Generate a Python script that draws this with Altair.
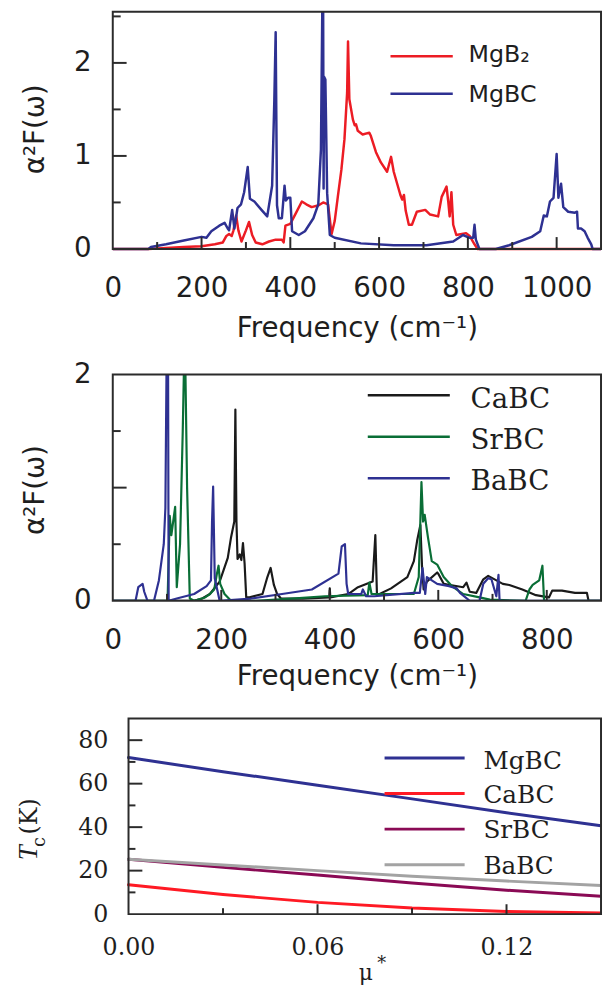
import altair as alt
import pandas as pd

# ---------------- Panel 1: alpha^2F(omega) of MgB2 and MgBC ----------------
MGB2_W = [0, 80, 120, 160, 200, 230, 248, 256, 262, 268, 272, 278, 283, 290, 300, 307, 314, 322, 337, 352,
          367, 381, 385, 389, 400, 412, 426, 436, 448, 464, 474, 485, 493, 500, 507, 515, 522, 528, 530, 533,
          541, 545, 548, 552, 563, 578, 581, 593, 604, 618, 627, 633, 648, 652, 656, 660, 667, 674, 685, 704,
          715, 733, 741, 752, 756, 759, 763, 767, 774, 796, 804, 815, 822, 1100]
MGB2_A = [0, 0, 0.01, 0.02, 0.03, 0.05, 0.07, 0.14, 0.16, 0.14, 0.2, 0.36, 0.2, 0.08, 0.2, 0.29, 0.15, 0.07, 0.05, 0.08,
          0.1, 0.1, 0.07, 0.25, 0.27, 0.38, 0.51, 0.48, 0.45, 0.47, 0.5, 0.48, 0.16, 0.3, 0.56, 0.85, 1.18, 1.68, 2.23, 1.61,
          1.39, 1.33, 1.34, 1.27, 1.23, 1.25, 1.22, 1.04, 0.93, 0.83, 0.99, 0.83, 0.58, 0.53, 0.58, 0.41, 0.26, 0.26, 0.4, 0.42,
          0.37, 0.35, 0.56, 0.67, 0.5, 0.35, 0.61, 0.26, 0.15, 0.17, 0.14, 0.05, 0, 0]
MGBC_W = [0, 80, 86, 120, 160, 200, 211, 222, 240, 252, 259, 262, 269, 274, 281, 289, 296, 304, 309, 319,
          335, 348, 359, 364, 367, 370, 374, 381, 387, 390, 395, 400, 404, 419, 433, 452, 463, 469, 472, 474, 475,
          476, 479, 483, 489, 500, 559, 633, 707, 767, 789, 804, 812, 815, 818, 826, 863, 893, 944, 963, 971,
          978, 985, 993, 1000, 1004, 1010, 1015, 1026, 1041, 1046, 1048, 1055, 1063, 1070, 1078, 1081, 1100]
MGBC_A = [0, 0, 0.02, 0.05, 0.09, 0.13, 0.12, 0.19, 0.25, 0.28, 0.22, 0.2, 0.42, 0.22, 0.44, 0.48, 0.61, 0.88, 0.54, 0.51,
          0.42, 0.35, 0.68, 1.6, 2.33, 0.47, 0.33, 0.33, 0.68, 0.52, 0.55, 0.55, 0.19, 0.15, 0.19, 0.33, 0.48, 1.07, 2.55, 2.55, 0.65,
          1.85, 1.82, 0.6, 0.15, 0.12, 0.06, 0.04, 0.04, 0.08, 0.15, 0.12, 0.12, 0.26, 0.1, 0, 0, 0.04, 0.13, 0.19, 0.36,
          0.35, 0.51, 0.55, 1.02, 0.55, 0.7, 0.45, 0.4, 0.39, 0.4, 0.22, 0.22, 0.19, 0.12, 0.05, 0, 0]
P1_NAMES = ["MgB₂", "MgBC"]
P1_COLORS = ["#ec1c24", "#2e3192"]
P1_XDOMAIN = [0, 1100]
P1_YDOMAIN = [0, 2.55]
P1_XLABELS = [0, 200, 400, 600, 800, 1000]
P1_XTICKS_MAJOR = [200, 400, 600, 800, 1000]
P1_XTICKS_MINOR = [100, 300, 500, 700, 900]
P1_YLABELS = [0, 1, 2]
P1_YTICKS_MAJOR = [1, 2]
P1_YTICKS_MINOR = [0.5, 1.5, 2.5]

# ---------------- Panel 2: CaBC, SrBC, BaBC ----------------
CABC_W = [0, 150, 165, 179, 197, 212, 218, 224, 226, 228, 230, 234, 237, 240, 243, 246, 252, 276, 285, 291,
          297, 303, 310, 350, 399, 400, 401, 434, 452, 479, 484, 487, 513, 543, 555, 561, 567, 570, 573, 579,
          598, 600, 610, 622, 646, 652, 658, 670, 683, 692, 719, 731, 755, 780, 804, 810, 828, 852, 874, 877, 900]
CABC_A = [0, 0, 0.02, 0.06, 0.17, 0.38, 0.56, 0.7, 1.69, 0.7, 0.37, 0.41, 0.36, 0.51, 0.33, 0.03, 0.03, 0.06, 0.21, 0.29,
          0.14, 0.06, 0.02, 0.02, 0.03, 0.11, 0.03, 0.06, 0.12, 0.17, 0.58, 0.05, 0.11, 0.21, 0.35, 0.53, 0.67, 0.31, 0.1, 0.17,
          0.25, 0.24, 0.15, 0.14, 0.12, 0.16, 0.08, 0.07, 0.19, 0.22, 0.15, 0.14, 0.1, 0.05, 0.03, 0.09, 0.09, 0.07, 0.07, 0, 0]
SRBC_W = [0, 101, 105, 108, 115, 118, 124, 129, 131, 134, 137, 142, 150, 170, 179, 187, 192, 195, 198, 206,
          214, 218, 264, 330, 391, 470, 473, 477, 555, 564, 569, 572, 575, 581, 588, 598, 610, 625, 646, 676,
          695, 761, 768, 774, 786, 792, 795, 900]
SRBC_A = [0, 0, 0.75, 0.58, 0.83, 0.12, 0.5, 1.5, 2.0, 2.0, 1.0, 0.02, 0, 0.03, 0.06, 0.1, 0.24, 0.31, 0.15, 0.06,
          0.02, 0, 0, 0.02, 0.04, 0.05, 0.16, 0.06, 0.06, 0.21, 1.05, 0.7, 0.76, 0.56, 0.35, 0.32, 0.21, 0.13, 0.06, 0.03,
          0.01, 0, 0.1, 0.14, 0.18, 0.31, 0, 0]
BABC_W = [0, 42, 47, 55, 58, 64, 76, 85, 94, 97, 99, 102, 103, 118, 150, 173, 181, 183, 185, 188,
          197, 255, 312, 367, 416, 422, 428, 431, 434, 458, 461, 467, 482, 555, 566, 571, 576, 579, 598, 620,
          634, 640, 658, 676, 683, 692, 698, 707, 711, 713, 900]
BABC_A = [0, 0, 0.12, 0.15, 0.08, 0, 0, 0.18, 0.5, 0.82, 2.0, 2.0, 0, 0.02, 0.06, 0.13, 0.18, 0.7, 1.01, 0.2,
          0, 0.02, 0.06, 0.1, 0.24, 0.48, 0.5, 0.15, 0.06, 0.06, 0.1, 0.04, 0.04, 0.07, 0.07, 0.29, 0.06, 0.21, 0.15, 0.13,
          0.11, 0.07, 0, 0, 0.15, 0.2, 0.19, 0.04, 0.23, 0, 0]
P2_NAMES = ["CaBC", "SrBC", "BaBC"]
P2_COLORS = ["#1a1a1a", "#0a6e36", "#2e3192"]
P2_XDOMAIN = [0, 900]
P2_YDOMAIN = [0, 2]
P2_XLABELS = [0, 200, 400, 600, 800]
P2_XTICKS_MAJOR = [200, 400, 600, 800]
P2_XTICKS_MINOR = [100, 300, 500, 700]
P2_YLABELS = [0, 1, 2]
P2_YTICKS_MAJOR = [1]
P2_YTICKS_MINOR = [0.5, 1.5]

# ---------------- Panel 3: Tc versus mu* ----------------
MU = [0, 0.03, 0.06, 0.09, 0.12, 0.15]
TC_MGBC = [72, 65.5, 59.3, 53, 46.6, 40.6]
TC_CABC = [13.5, 9.0, 5.4, 2.8, 1.2, 0.5]
TC_SRBC = [25.2, 21.5, 18.0, 14.3, 11.0, 8.2]
TC_BABC = [25.2, 22.6, 20.0, 17.4, 15.2, 13.2]
P3_NAMES = ["MgBC", "CaBC", "SrBC", "BaBC"]
P3_COLORS = ["#2e3192", "#ff1a24", "#8a0a55", "#a3a3a3"]
P3_XDOMAIN = [0, 0.15]
P3_YDOMAIN = [0, 90]
P3_XLABELS = [0, 0.06, 0.12]
P3_XTICKS_MAJOR = [0.06, 0.12]
P3_XTICKS_MINOR = [0.03, 0.09]
P3_YLABELS = [0, 20, 40, 60, 80]
P3_YTICKS_MAJOR = [20, 40, 60, 80]
P3_YTICKS_MINOR = [10, 30, 50, 70]

SANS = "DejaVu Sans"
SERIF = "DejaVu Serif"
FRAME = "#2b2b2b"
TXT = "#1e1e1e"
W = 494
H1F, H2, H3 = 240, 229, 198
EXT1 = 8                     # panel 1 view runs 8px below its frame
H1 = H1F + EXT1


def xy(xs, ys):
    return pd.DataFrame({"x": xs, "y": ys})


def lines(series, colors, xenc, yenc, sw):
    return [alt.Chart(xy(xs, ys)).mark_line(color=c, strokeWidth=sw, clip=True, strokeJoin="round",
                                            strokeCap="round").encode(x=xenc, y=yenc)
            for (xs, ys), c in zip(series, colors)]


def frame(xd, yd, xenc, yenc):
    d = pd.DataFrame({"x": [xd[0]], "x2": [xd[1]], "y": [yd[0]], "y2": [yd[1]]})
    return alt.Chart(d).mark_rect(fillOpacity=0, stroke=FRAME, strokeWidth=2).encode(
        x=xenc, x2="x2:Q", y=yenc, y2="y2:Q")


def xticks(vals, xenc, h, length):
    return alt.Chart(pd.DataFrame({"x": vals})).mark_rule(color=FRAME, strokeWidth=2).encode(
        x=xenc, y=alt.value(h), y2=alt.value(h - length))


def yticks(vals, yenc, x0, length):
    return alt.Chart(pd.DataFrame({"y": vals})).mark_rule(color=FRAME, strokeWidth=2).encode(
        y=yenc, x=alt.value(x0), x2=alt.value(x0 + length))


def legend(names, colors, x0, x1, ys_line, tx, ys_text, font, size, sw):
    out = []
    for n, c, yl, yt in zip(names, colors, ys_line, ys_text):
        d = pd.DataFrame({"label": [n]})
        out.append(alt.Chart(d).mark_rule(color=c, strokeWidth=sw).encode(
            x=alt.value(x0), x2=alt.value(x1), y=alt.value(yl)))
        out.append(alt.Chart(d).mark_text(align="left", baseline="alphabetic", font=font, fontSize=size,
                                          color=TXT).encode(x=alt.value(tx), y=alt.value(yt), text="label:N"))
    return out


def xaxis(values, fmt, font, size, pad, title, title_y):
    kw = dict(values=values, format=fmt, ticks=False, domain=False, grid=False, labelFont=font,
              labelFontSize=size, labelColor=TXT, labelPadding=pad, labelFlush=False, labelOverlap=False)
    if title:
        kw.update(title=title, titleFont=SANS, titleFontSize=28, titleFontWeight="normal", titleColor=TXT,
                  titleBaseline="alphabetic", titleY=title_y)
    else:
        kw.update(title=None)
    return alt.Axis(**kw)


def yaxis(values, fmt, font, size, pad):
    return alt.Axis(values=values, format=fmt, ticks=False, domain=False, grid=False, labelFont=font,
                    labelFontSize=size, labelColor=TXT, labelPadding=pad, labelFlush=False, labelOverlap=False,
                    title=None)


def label(txt, x, y, size, font=SERIF, angle=0, style="normal", baseline="middle"):
    return alt.Chart(pd.DataFrame({"t": [txt]})).mark_text(
        align="center", baseline=baseline, font=font, fontSize=size, angle=angle, fontStyle=style,
        color=TXT).encode(x=alt.value(x), y=alt.value(y), text="t:N")


# ---- panel 1
y1_lo = -P1_YDOMAIN[1] * EXT1 / H1F
xs1 = alt.Scale(domain=P1_XDOMAIN, nice=False, zero=False)
ys1 = alt.Scale(domain=[y1_lo, P1_YDOMAIN[1]], nice=False, zero=False)
x1 = alt.X("x:Q", scale=xs1, axis=xaxis(P1_XLABELS, "d", SANS, 28, 26 - EXT1, "Frequency (cm⁻¹)", 89 - EXT1))
y1 = alt.Y("y:Q", scale=ys1, axis=yaxis(P1_YLABELS, "d", SANS, 28, 22))
p1_layers = lines([(MGB2_W, MGB2_A), (MGBC_W, MGBC_A)], P1_COLORS, x1, y1, 2.5)
p1_layers += [frame(P1_XDOMAIN, P1_YDOMAIN, x1, y1),
              xticks(P1_XTICKS_MAJOR, x1, H1F, 12), xticks(P1_XTICKS_MINOR, x1, H1F, 7),
              yticks(P1_YTICKS_MAJOR, y1, 0, 14), yticks(P1_YTICKS_MINOR, y1, 0, 8),
              label("α²F(ω)", -78, 119, 28, font=SANS, angle=270)]
p1_layers += legend(P1_NAMES, P1_COLORS, 281, 344, [45, 83], 360, [51, 91], SANS, 24, 2.5)
p1 = alt.layer(*p1_layers).properties(width=W, height=H1)

# ---- panel 2
xs2 = alt.Scale(domain=P2_XDOMAIN, nice=False, zero=False)
ys2 = alt.Scale(domain=P2_YDOMAIN, nice=False)
x2 = alt.X("x:Q", scale=xs2, axis=xaxis(P2_XLABELS, "d", SANS, 28, 26, "Frequency (cm⁻¹)", 85))
y2 = alt.Y("y:Q", scale=ys2, axis=yaxis(P2_YLABELS, "d", SANS, 28, 22))
p2_layers = lines([(CABC_W, CABC_A), (SRBC_W, SRBC_A), (BABC_W, BABC_A)], P2_COLORS, x2, y2, 2.2)
p2_layers += [frame(P2_XDOMAIN, P2_YDOMAIN, x2, y2),
              xticks(P2_XTICKS_MAJOR, x2, H2, 11), xticks(P2_XTICKS_MINOR, x2, H2, 7),
              yticks(P2_YTICKS_MAJOR, y2, 0, 14), yticks(P2_YTICKS_MINOR, y2, 0, 8),
              label("α²F(ω)", -78, 117, 28, font=SANS, angle=270)]
p2_layers += legend(P2_NAMES, P2_COLORS, 258, 341, [21, 63, 105], 362, [34, 75, 117], SERIF, 28, 2.5)
p2 = alt.layer(*p2_layers).properties(width=W, height=H2)

# ---- panel 3 (x scale starts a little below 0 so the frame sits 16px further right)
x3_lo = -0.005
off3 = W * (0 - x3_lo) / (P3_XDOMAIN[1] - x3_lo)
xs3 = alt.Scale(domain=[x3_lo, P3_XDOMAIN[1]], nice=False, zero=False)
ys3 = alt.Scale(domain=P3_YDOMAIN, nice=False)
x3 = alt.X("x:Q", scale=xs3, axis=xaxis(P3_XLABELS, ".2f", SERIF, 24, 22, "", 0))
y3 = alt.Y("y:Q", scale=ys3, axis=yaxis(P3_YLABELS, "d", SERIF, 24, 5))
p3_layers = lines([(MU, TC_MGBC), (MU, TC_CABC), (MU, TC_SRBC), (MU, TC_BABC)], P3_COLORS, x3, y3, 3)
p3_layers += [frame(P3_XDOMAIN, P3_YDOMAIN, x3, y3),
              xticks(P3_XTICKS_MAJOR, x3, H3, 10), xticks(P3_XTICKS_MINOR, x3, H3, 6),
              yticks(P3_YTICKS_MAJOR, y3, off3, 14), yticks(P3_YTICKS_MINOR, y3, off3, 7)]
p3_layers += legend(P3_NAMES, P3_COLORS, 275, 356, [40, 76, 112, 148], 375, [51, 86, 121, 157], SERIF, 25, 3)
p3_layers += [label("T", -85, 136, 27, font="Liberation Serif", angle=270, style="italic"),
              label("c", -74, 125, 18, angle=270),
              label("(K)", -84, 99, 24, angle=270),
              label("μ", 256, 265, 22, baseline="alphabetic"),
              label("*", 272, 249, 18)]
p3 = alt.layer(*p3_layers).properties(width=W, height=H3)

chart = alt.vconcat(p1, p2, p3, spacing=119, bounds="flush").properties(
    padding={"left": 6, "top": -4, "right": 0, "bottom": 0}
).configure_view(stroke="transparent")

chart.save("out.html", embed_options={"renderer": "svg", "actions": False})
